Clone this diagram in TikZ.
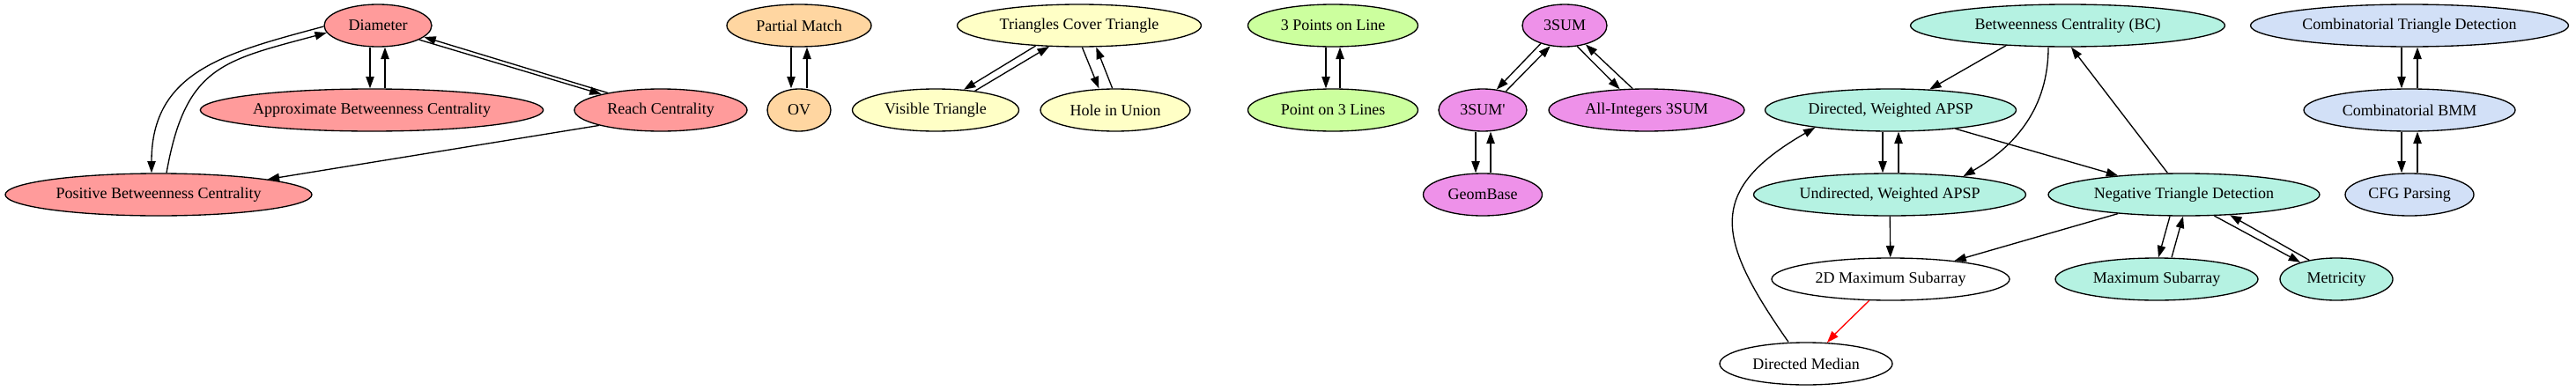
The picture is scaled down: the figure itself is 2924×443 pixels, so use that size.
\documentclass[tikz,border=0pt]{standalone}
\usepackage{fontspec}
\setmainfont{Liberation Serif}
\usetikzlibrary{shapes.geometric,arrows.meta}
\definecolor{redfill}{HTML}{FF9B9B}
\definecolor{orangefill}{HTML}{FFD6A1}
\definecolor{yellowfill}{HTML}{FFFFC6}
\definecolor{greenfill}{HTML}{CCFF9E}
\definecolor{purplefill}{HTML}{EE91E9}
\definecolor{tealfill}{HTML}{B5F2E2}
\definecolor{bluefill}{HTML}{D2E0F7}
\tikzset{
  prob/.style={shape=ellipse, draw=black, line width=1pt, inner sep=2pt, minimum height=36pt, font=\fontsize{13.5}{16}\selectfont},
  redprob/.style={prob, fill=redfill},
  orangeprob/.style={prob, fill=orangefill},
  yellowprob/.style={prob, fill=yellowfill},
  greenprob/.style={prob, fill=greenfill},
  purpleprob/.style={prob, fill=purplefill},
  tealprob/.style={prob, fill=tealfill},
  blueprob/.style={prob, fill=bluefill},
  whiteprob/.style={prob, fill=white}
}
\begin{document}
\begin{tikzpicture}[x=0.75pt, y=-0.75pt, line width=1pt, >={Triangle[length=10pt, width=7pt]}]
\useasboundingbox (0,0) rectangle (2924,443);
\node[redprob, minimum width=91.5pt] (dia) at (429,29) {Diameter};
\node[redprob, minimum width=289.5pt] (abc) at (422,125) {Approximate Betweenness Centrality};
\node[redprob, minimum width=147pt] (rc) at (750,125) {Reach Centrality};
\node[redprob, minimum width=261pt] (pbc) at (180,221) {Positive Betweenness Centrality};
\node[orangeprob, minimum width=123pt] (pm) at (907,29) {Partial Match};
\node[orangeprob, minimum width=54pt] (ov) at (907,125) {OV};
\node[yellowprob, minimum width=207.75pt] (tct) at (1225,29) {Triangles Cover Triangle};
\node[yellowprob, minimum width=141.75pt] (vt) at (1062,125) {Visible Triangle};
\node[yellowprob, minimum width=127.5pt] (hu) at (1266,125) {Hole in Union};
\node[greenprob, minimum width=144.75pt] (tpl) at (1513,29) {3 Points on Line};
\node[greenprob, minimum width=144.75pt] (ptl) at (1513,125) {Point on 3 Lines};
\node[purpleprob, minimum width=72pt] (ts) at (1776,29) {3SUM};
\node[purpleprob, minimum width=75pt] (tsp) at (1683,125) {3SUM\textquotesingle};
\node[purpleprob, minimum width=166.5pt] (ai) at (1869,125) {All-Integers 3SUM};
\node[purpleprob, minimum width=101.25pt] (gb) at (1683,221) {GeomBase};
\node[tealprob, minimum width=267.75pt] (bc) at (2347,29) {Betweenness Centrality (BC)};
\node[tealprob, minimum width=213.75pt] (dw) at (2146,125) {Directed, Weighted APSP};
\node[tealprob, minimum width=231.75pt] (uw) at (2145,221) {Undirected, Weighted APSP};
\node[tealprob, minimum width=231pt] (ntd) at (2479,221) {Negative Triangle Detection};
\node[tealprob, minimum width=172.5pt] (ms) at (2448,317) {Maximum Subarray};
\node[tealprob, minimum width=96pt] (met) at (2652,317) {Metricity};
\node[whiteprob, minimum width=202.5pt] (tdms) at (2146,317) {2D Maximum Subarray};
\node[whiteprob, minimum width=147pt] (dm) at (2050,413) {Directed Median};
\node[blueprob, minimum width=270.75pt] (ctd) at (2735,29) {Combinatorial Triangle Detection};
\node[blueprob, minimum width=180pt] (cbmm) at (2735,125) {Combinatorial BMM};
\node[blueprob, minimum width=109.5pt] (cfg) at (2735,221) {CFG Parsing};
\draw [->] ([xshift=-6.75pt]dia.south) -- ([xshift=-1.5pt]abc.north);
\draw [->] ([xshift=11.25pt]abc.north) -- ([xshift=6pt]dia.south);
\draw [->] (dia.-19) -- (rc.165);
\draw [->] (rc.162) -- (dia.-14);
\draw [->] (dia.181) to[out=195, in=90, looseness=1.15] ([xshift=-6pt]pbc.north);
\draw [->] ([xshift=6.75pt]pbc.north) to[out=80, in=195, looseness=1.3] (dia.188);
\draw [->] (rc.194) -- (pbc.8);
\draw [->] ([xshift=-6.75pt]pm.south) -- ([xshift=-6.75pt]ov.north);
\draw [->] ([xshift=6.75pt]ov.north) -- ([xshift=6.75pt]pm.south);
\draw [->] (tct.205) -- (vt.36);
\draw [->] (vt.26) -- (tct.215);
\draw [->] ([xshift=2.5pt]tct.south) -- ([xshift=-14pt]hu.north);
\draw [->] ([xshift=-2.5pt]hu.north) -- ([xshift=14.5pt]tct.south);
\draw [->] ([xshift=-6pt]tpl.south) -- ([xshift=-6pt]ptl.north);
\draw [->] ([xshift=6pt]ptl.north) -- ([xshift=6pt]tpl.south);
\draw [->] (ts.217) -- (tsp.56);
\draw [->] (tsp.39) -- (ts.235);
\draw [->] (ts.-59) -- (ai.142);
\draw [->] (ai.123) -- (ts.-42);
\draw [->] ([xshift=-6pt]tsp.south) -- ([xshift=-6pt]gb.north);
\draw [->] ([xshift=6.75pt]gb.north) -- ([xshift=6.75pt]tsp.south);
\draw [->] (bc.198) -- (dw.28);
\draw [->] ([xshift=-16.5pt]bc.south) to[out=-90, in=30] (uw.14);
\draw [->] ([xshift=-14pt]ntd.north) -- ([xshift=3pt]bc.south);
\draw [->] ([xshift=-6.75pt]dw.south) -- ([xshift=-6pt]uw.north);
\draw [->] ([xshift=7.5pt]uw.north) -- ([xshift=6.75pt]dw.south);
\draw [->] (dw) -- (ntd);
\draw [->] (uw) -- (tdms);
\draw [->] (ntd) -- (tdms);
\draw [->, red] (tdms) -- (dm);
\draw [->] ([xshift=-15pt]dm.north) to[out=125, in=210, looseness=1.5] (dw.193);
\draw [->] ([xshift=-12pt]ntd.south) -- ([xshift=1.5pt]ms.north);
\draw [->] ([xshift=12.75pt]ms.north) -- ([xshift=-0.75pt]ntd.south);
\draw [->] (ntd.-35) -- (met.155);
\draw [->] (met.145) -- (ntd.-24);
\draw [->] ([xshift=-6.75pt]ctd.south) -- ([xshift=-6.75pt]cbmm.north);
\draw [->] ([xshift=6.75pt]cbmm.north) -- ([xshift=6.75pt]ctd.south);
\draw [->] ([xshift=-6.75pt]cbmm.south) -- ([xshift=-6.75pt]cfg.north);
\draw [->] ([xshift=6.75pt]cfg.north) -- ([xshift=6.75pt]cbmm.south);
\end{tikzpicture}
\end{document}
